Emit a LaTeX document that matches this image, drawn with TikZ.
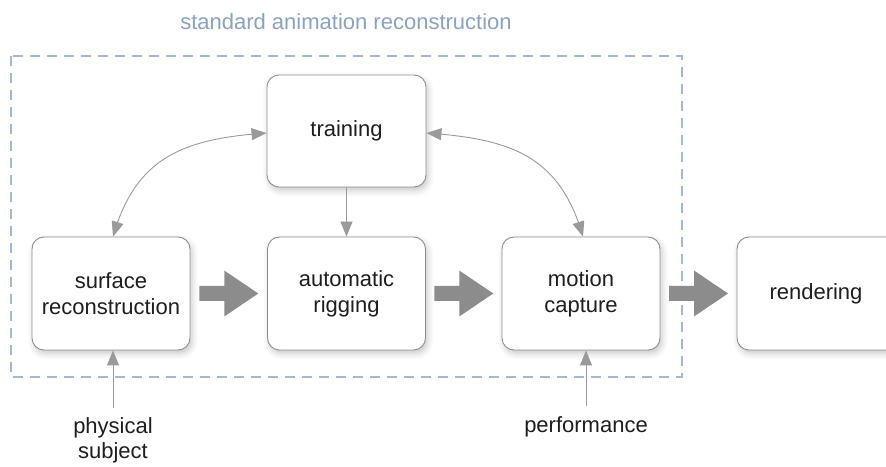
\documentclass[tikz,border=0pt]{standalone}
\usepackage{fontspec}
\setmainfont{Liberation Sans}
\usetikzlibrary{arrows.meta,bending,shadows.blur,calc}

\definecolor{boxline}{HTML}{8E8E8E}
\definecolor{linkgray}{HTML}{9A9A9A}
\definecolor{blockgray}{HTML}{8C8C8C}
\definecolor{framecol}{HTML}{A3B8D2}
\definecolor{titlecol}{HTML}{8AA2C2}
\definecolor{txt}{HTML}{1E1E1E}

\tikzset{
  stage/.style={draw=boxline, line width=0.9pt, fill=white, rounded corners=12pt,
    minimum width=158pt, minimum height=113pt, align=center, inner sep=0pt,
    text=txt, font=\fontsize{22}{26}\selectfont,
    blur shadow={shadow xshift=2pt, shadow yshift=-3.5pt, shadow blur radius=6pt, shadow opacity=22}},
  inlabel/.style={align=center, inner sep=0pt, text=txt, font=\fontsize{22}{25}\selectfont},
  link/.style={draw=linkgray, line width=0.9pt},
  tip/.style={-{Triangle[length=15pt,width=12pt,flex]}},
  tips/.style={{Triangle[length=15pt,width=12pt,flex]}-{Triangle[length=15pt,width=12pt,flex]}},
  blockarrow/.style={fill=blockgray},
  frame/.style={draw=framecol, line width=1.2pt, dash pattern=on 10pt off 7pt}
}

% filled block arrow between two stages
\newcommand\stagearrow[2]{%
  \fill[blockarrow] ($(#1.east)!0.5!(#2.west)+(-29.5,7.5)$) -- ++(25,0) -- ++(0,15.5)
    -- ++(34,-23) -- ++(-34,-23) -- ++(0,15.5) -- ++(-25,0) -- cycle;}

\begin{document}
\begin{tikzpicture}[x=1pt,y=1pt]
\useasboundingbox (0,0) rectangle (886,466);

% group frame and its caption
\draw[frame] (11,410) rectangle (682,89);
\node[text=titlecol, font=\fontsize{22}{26}\selectfont] (title) at (346,444) {standard animation reconstruction};

% stages
\node[stage, minimum width=159pt, minimum height=112pt] (train) at (346.5,335) {training};
\node[stage] (surf) at (111,172.5) {surface\\reconstruction};
\node[stage] (rig) at (346.5,172.5) {automatic\\rigging};
\node[stage] (mocap) at (581,172.5) {motion\\capture};
% the last stage runs on past the right edge
\node[stage, minimum width=180pt] (render) at (827,172.5) {\hspace*{-22pt}rendering};

% main pipeline
\stagearrow{surf}{rig}
\stagearrow{rig}{mocap}
\stagearrow{mocap}{render}

% training links
\draw[link, tips] ([xshift=2pt]surf.north) to[out=74, in=184, looseness=1.15] ([yshift=-2pt]train.west);
\draw[link, tips] ([yshift=-2pt]train.east) to[out=-4, in=106, looseness=1.15] ([xshift=2pt]mocap.north);
\draw[link, tip] (train.south) -- (rig.north);

% external inputs
\node[inlabel, anchor=north] (subject) at (113,49) {physical\\subject};
\node[inlabel, anchor=north] (perf) at (586,50) {performance};
\draw[link, tip, shorten <=9pt] (subject.north) -- (subject.north |- surf.south);
\draw[link, tip, shorten <=10pt] (perf.north) -- (perf.north |- mocap.south);
\end{tikzpicture}
\end{document}
